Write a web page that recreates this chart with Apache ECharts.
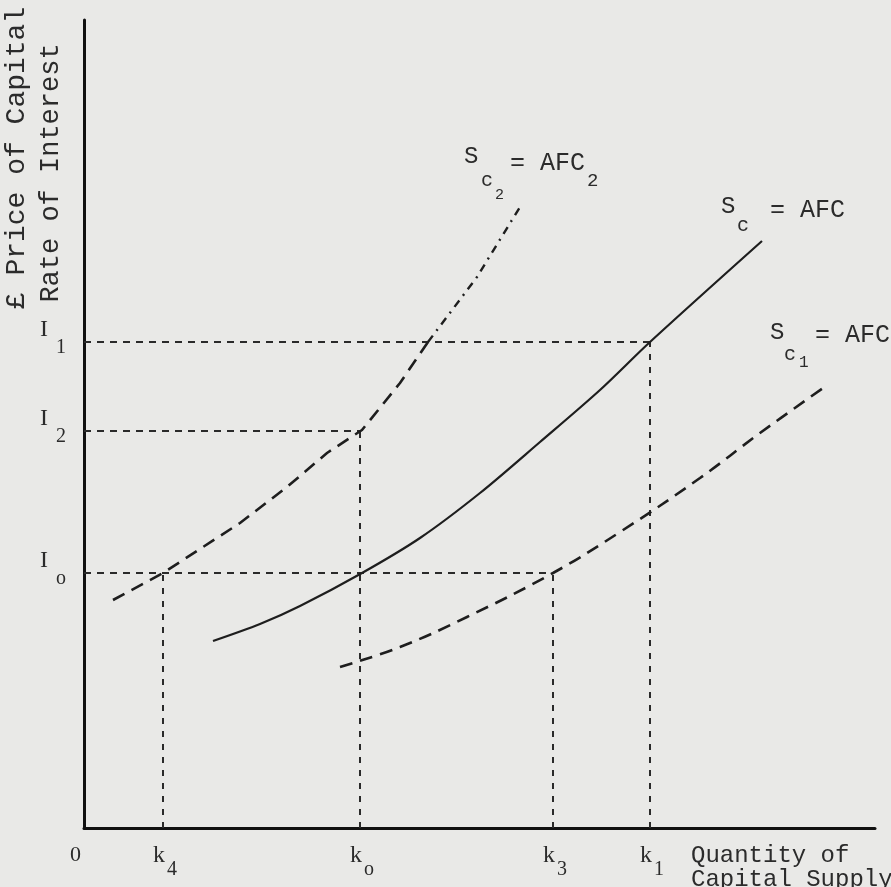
<!DOCTYPE html>
<html><head><meta charset="utf-8">
<script src="https://cdn.jsdelivr.net/npm/echarts@6/dist/echarts.min.js"></script>
<style>html,body{margin:0;padding:0;background:#e9e9e7;}#c{width:891px;height:887px;}</style>
</head><body><div id="c"></div>
<script>
// ---- Data (diagram units, origin at O) ----
const xTickValues = [79, 276, 469, 566];          // k4, ko, k3, k1
const xTickSubs   = ['4', 'o', '3', '1'];
const xTickTops   = [255, 397, 255, 486];          // vertical guides rise to these levels
const yTickValues = [255, 397, 486];               // Io, I2, I1
const yTickSubs   = ['o', '2', '1'];
const yTickEnds   = [469, 276, 566];               // horizontal guides run to these quantities

const scX  = [129, 176, 216, 278, 336, 396, 456, 516, 566, 678];
const scY  = [187, 204, 222, 255, 290, 335, 386, 438, 486, 587];
const sc2X = [29, 79, 156, 203, 243, 278, 316, 344];
const sc2Y = [228, 255, 305, 341, 375, 398, 445, 486];
const sc2UpX = [344, 393, 436];
const sc2UpY = [486, 551, 621];
const sc1X = [256, 316, 383, 469, 536, 616, 676, 742];
const sc1Y = [161, 181, 211, 255, 296, 350, 395, 442];
const xMax = 791, yMax = 808;

// ---- build ----
const ink = '#1e1e1e';
const zip = (a, b) => a.map((v, i) => [v, b[i]]);
const series = [];
yTickValues.forEach((v, i) => series.push({
  type: 'line', data: [[0, v], [yTickEnds[i], v]], symbol: 'none', silent: true,
  lineStyle: { color: '#2a2a2a', width: 2, type: [7, 6] }
}));
xTickValues.forEach((v, i) => series.push({
  type: 'line', data: [[v, 0], [v, xTickTops[i]]], symbol: 'none', silent: true,
  lineStyle: { color: '#2a2a2a', width: 2, type: [6, 7] }
}));
series.push({ type: 'line', data: zip(scX, scY), symbol: 'none', smooth: 0.3,
  lineStyle: { color: ink, width: 2.2 } });
series.push({ type: 'line', data: zip(sc2X, sc2Y), symbol: 'none', smooth: false,
  lineStyle: { color: ink, width: 2.6, type: [13, 8] } });
series.push({ type: 'line', data: zip(sc2UpX, sc2UpY), symbol: 'none', smooth: false,
  lineStyle: { color: ink, width: 2.4, type: [8, 6, 2, 6] } });
series.push({ type: 'line', data: zip(sc1X, sc1Y), symbol: 'none', smooth: 0.4,
  lineStyle: { color: ink, width: 2.6, type: [13, 8] } });

const chart = echarts.init(document.getElementById('c'), null, { renderer: 'canvas' });
const axisCommon = {
  type: 'value', min: 0,
  axisLine: { show: true, onZero: false, lineStyle: { color: '#111', width: 3 } },
  axisTick: { show: false }, axisLabel: { show: false }, splitLine: { show: false }
};
chart.setOption({
  animation: false,
  backgroundColor: '#e9e9e7',
  grid: { left: 84, right: 16, top: 20, bottom: 59, containLabel: false },
  xAxis: Object.assign({}, axisCommon, { max: xMax }),
  yAxis: Object.assign({}, axisCommon, { max: yMax }),
  series: series
});

// ---- text annotations ----
const mono = '"Liberation Mono", "DejaVu Sans Mono", monospace';
const serif = '"Liberation Serif", "DejaVu Serif", serif';
const txtColor = '#2b2b2b';
function T(x, y, text, size, fam, extra, align) {
  return Object.assign({ type: 'text', x: x, y: y, silent: true,
    style: { text: text, font: size + 'px ' + fam, fill: txtColor, align: align || 'left', verticalAlign: 'middle' } }, extra || {});
}
const g = [];
// x tick labels
const origin = chart.convertToPixel({ gridIndex: 0 }, [0, 0]);
g.push(T(origin[0] - 14, origin[1] + 27, '0', 22, serif));
xTickValues.forEach((v, i) => {
  const p = chart.convertToPixel({ gridIndex: 0 }, [v, 0]);
  g.push(T(p[0] - 10, p[1] + 28, 'k', 24, serif));
  g.push(T(p[0] + 4, p[1] + 42, xTickSubs[i], 20, serif));
});
// y tick labels
yTickValues.forEach((v, i) => {
  const p = chart.convertToPixel({ gridIndex: 0 }, [0, v]);
  g.push(T(p[0] - 44, p[1] - 12, 'I', 24, serif));
  g.push(T(p[0] - 28, p[1] + 6, yTickSubs[i], 20, serif));
});
// curve labels
g.push(T(464, 157, 'S', 24, mono));
g.push(T(481, 181, 'c', 20, mono));
g.push(T(495, 195, '2', 15, mono));
g.push(T(510, 163, '= AFC', 25, mono));
g.push(T(587, 181, '2', 19, mono));

g.push(T(721, 207, 'S', 24, mono));
g.push(T(737, 226, 'c', 20, mono));
g.push(T(770, 210, '= AFC', 25, mono));

g.push(T(770, 333, 'S', 24, mono));
g.push(T(784, 355, 'c', 20, mono));
g.push(T(799, 363, '1', 16, mono));
g.push(T(815, 335, '= AFC', 25, mono));

// axis titles
g.push(T(691, 856, 'Quantity of', 24, mono));
g.push(T(691, 880, 'Capital Supply', 24, mono));
g.push(T(17, 158, '£ Price of Capital', 28, mono, { rotation: Math.PI / 2 }, 'center'));
g.push(T(51, 173, 'Rate of Interest', 27, mono, { rotation: Math.PI / 2 }, 'center'));

chart.setOption({ graphic: { elements: g } });
</script></body></html>
